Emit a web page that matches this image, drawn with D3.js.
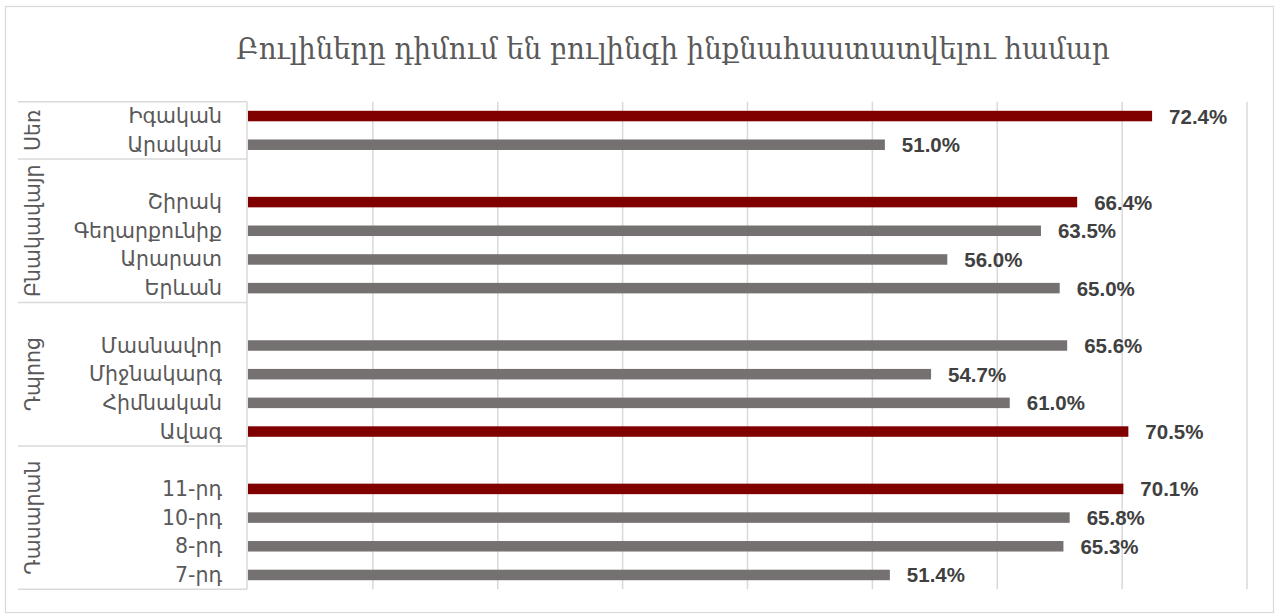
<!DOCTYPE html>
<html>
<head>
<meta charset="utf-8">
<script src="https://cdn.jsdelivr.net/npm/d3@7"></script>
<style>
  body { margin: 0; background: #fff; }
  svg { display: block; }
</style>
</head>
<body>
<svg id="chart"></svg>
<script>
var width = 1275;
var height = 615;

// data, top to bottom as in the picture
var title = "Բուլիները դիմում են բուլինգի ինքնահաստատվելու համար";
var groupNames = ["Սեռ", "Բնակավայր", "Դպրոց", "Դասարան"];
var categories = ["Իգական", "Արական", "Շիրակ", "Գեղարքունիք", "Արարատ", "Երևան",
                  "Մասնավոր", "Միջնակարգ", "Հիմնական", "Ավագ",
                  "11-րդ", "10-րդ", "8-րդ", "7-րդ"];
var categoryGroup = [0, 0, 1, 1, 1, 1, 2, 2, 2, 2, 3, 3, 3, 3];
var values = [72.4, 51.0, 66.4, 63.5, 56.0, 65.0, 65.6, 54.7, 61.0, 70.5, 70.1, 65.8, 65.3, 51.4];
var highlighted = ["Իգական", "Շիրակ", "Ավագ", "11-րդ"];
var xTicks = [0, 10, 20, 30, 40, 50, 60, 70, 80];

// slots: an empty slot opens every group except the first (like excel does)
var slots = [];
groupNames.forEach(function(g, gi) {
    if (gi > 0) slots.push({key: "gap" + gi, group: gi, gap: true});
    categories.forEach(function(c, i) {
        if (categoryGroup[i] == gi) slots.push({key: c, group: gi, value: values[i], gap: false});
    });
});

var plot = {left: 248, right: 1247, top: 101.7, bottom: 589.3};

var x = d3.scaleLinear().domain([0, 80]).range([plot.left, plot.right]);
var y = d3.scaleBand().domain(slots.map(function(d) { return d.key; }))
    .range([plot.top, plot.bottom]).padding(0);

var svg = d3.select("#chart").attr("width", width).attr("height", height);

// chart border
svg.append("rect")
    .attr("x", 5.5).attr("y", 6.5)
    .attr("width", 1268).attr("height", 606)
    .attr("fill", "#fff").attr("stroke", "#d9d9d9").attr("stroke-width", 1.2);

// title
svg.append("text")
    .attr("x", 673).attr("y", 59)
    .attr("text-anchor", "middle")
    .style("font-family", "'DejaVu Serif'")
    .style("font-stretch", "condensed")
    .style("font-size", "30.6px")
    .style("fill", "#595959")
    .text(title);

// gridlines
svg.append("g").attr("class", "grid")
    .selectAll("line")
    .data(xTicks.slice(1))
    .enter().append("line")
        .attr("x1", function(d) { return x(d); })
        .attr("x2", function(d) { return x(d); })
        .attr("y1", plot.top).attr("y2", plot.bottom)
        .attr("stroke", "#d9d9d9").attr("stroke-width", 1.5);

// category axis line
svg.append("line")
    .attr("x1", plot.left - 1).attr("x2", plot.left - 1)
    .attr("y1", plot.top).attr("y2", plot.bottom)
    .attr("stroke", "#d9d9d9").attr("stroke-width", 1.5);

// group separators in the label area
var groupBounds = groupNames.map(function(g, gi) {
    var s = slots.filter(function(d) { return d.group == gi; });
    return {name: g, y0: y(s[0].key), y1: y(s[s.length - 1].key) + y.bandwidth()};
});
var seps = [plot.top].concat(groupBounds.map(function(b) { return b.y1; }));
svg.append("g").selectAll("line")
    .data(seps)
    .enter().append("line")
        .attr("x1", 18).attr("x2", plot.left - 1)
        .attr("y1", function(d) { return d; })
        .attr("y2", function(d) { return d; })
        .attr("stroke", "#d9d9d9").attr("stroke-width", 1.5);

// group labels (rotated)
svg.append("g").selectAll("text")
    .data(groupBounds)
    .enter().append("text")
        .attr("transform", function(d) { return "translate(33," + ((d.y0 + d.y1) / 2) + ") rotate(-90)"; })
        .attr("text-anchor", "middle")
        .attr("dominant-baseline", "central")
        .style("font-family", "'DejaVu Sans'")
        .style("font-size", "20.5px")
        .style("fill", "#595959")
        .text(function(d) { return d.name; });

var rows = slots.filter(function(d) { return !d.gap; });

// category labels
svg.append("g").selectAll("text")
    .data(rows)
    .enter().append("text")
        .attr("x", 222)
        .attr("y", function(d) { return y(d.key) + y.bandwidth() / 2; })
        .attr("text-anchor", "end")
        .attr("dominant-baseline", "central")
        .style("font-family", "'DejaVu Sans'")
        .style("font-size", "20.5px")
        .style("fill", "#595959")
        .text(function(d) { return d.key; });

// bars
var barH = 10.5;
svg.append("g").selectAll("rect")
    .data(rows)
    .enter().append("rect")
        .attr("x", x(0))
        .attr("y", function(d) { return y(d.key) + (y.bandwidth() - barH) / 2; })
        .attr("width", function(d) { return x(d.value) - x(0); })
        .attr("height", barH)
        .attr("fill", function(d) { return highlighted.indexOf(d.key) >= 0 ? "#800000" : "#767171"; });

// value labels
svg.append("g").selectAll("text")
    .data(rows)
    .enter().append("text")
        .attr("x", function(d) { return x(d.value) + 17; })
        .attr("y", function(d) { return y(d.key) + y.bandwidth() / 2; })
        .attr("dominant-baseline", "central")
        .style("font-family", "'Liberation Sans'")
        .style("font-weight", "bold")
        .style("font-size", "20.5px")
        .style("fill", "#404040")
        .text(function(d) { return d.value.toFixed(1) + "%"; });
</script>
</body>
</html>
